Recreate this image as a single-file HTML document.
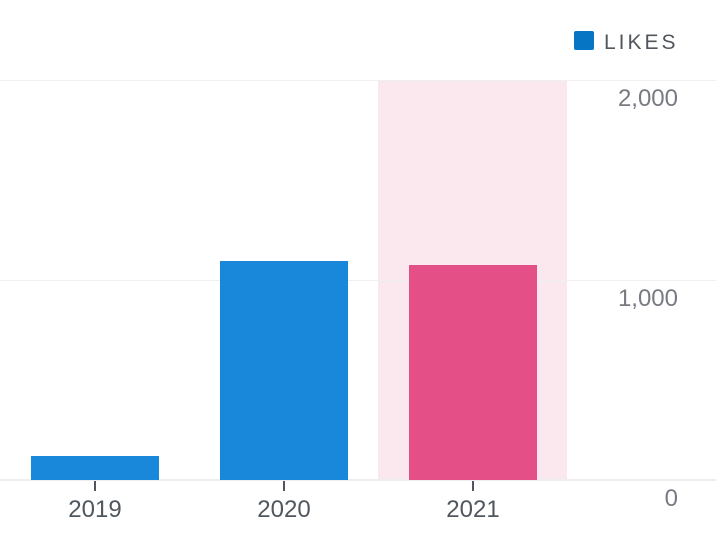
<!DOCTYPE html>
<html><head><style>
body{margin:0;background:#fff;}
svg{display:block;font-family:"Liberation Sans",sans-serif;}
</style></head><body>
<svg width="716" height="548" viewBox="0 0 716 548">
<rect x="378" y="80" width="189" height="400" fill="#fbe8ef"/>
<line x1="0" x2="716" y1="80.5" y2="80.5" stroke="#f0f0f0" stroke-width="1"/>
<line x1="0" x2="716" y1="280.5" y2="280.5" stroke="#f0f0f0" stroke-width="1"/>
<line x1="0" x2="716" y1="480" y2="480" stroke="#eeeeee" stroke-width="2"/>
<rect x="31" y="456" width="128" height="24" fill="#1a88da"/>
<rect x="220" y="261" width="128" height="219" fill="#1a88da"/>
<rect x="409" y="265" width="128" height="215" fill="#e34f86"/>
<g stroke="#50575e" stroke-width="2">
<line x1="95" x2="95" y1="481" y2="491"/>
<line x1="284" x2="284" y1="481" y2="491"/>
<line x1="473" x2="473" y1="481" y2="491"/>
</g>
<g fill="#50575e" font-size="24" text-anchor="middle">
<text x="95" y="517">2019</text>
<text x="284" y="517">2020</text>
<text x="473" y="517">2021</text>
</g>
<g fill="#787c82" font-size="24" text-anchor="end">
<text x="678" y="106">2,000</text>
<text x="678" y="306">1,000</text>
<text x="678" y="506">0</text>
</g>
<rect x="574" y="31" width="20" height="19" rx="2" fill="#0675c4"/>
<text x="604" y="49" font-size="21" fill="#50575e" letter-spacing="3">LIKES</text>
</svg>
</body></html>
